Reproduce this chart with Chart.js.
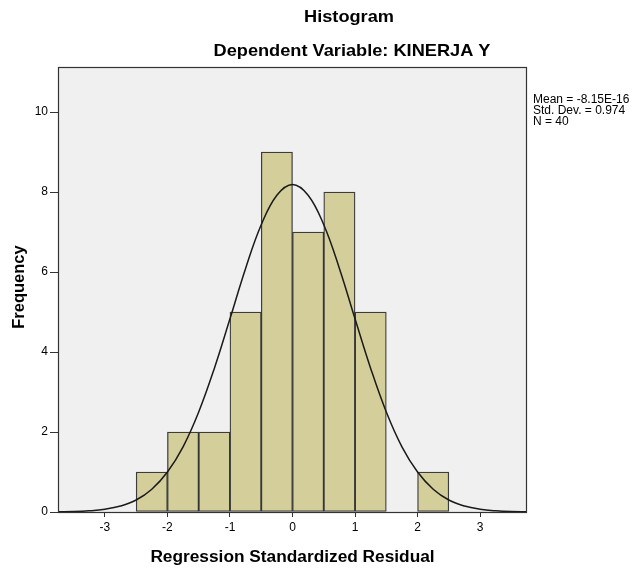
<!DOCTYPE html>
<html>
<head>
<meta charset="utf-8">
<script src="https://cdn.jsdelivr.net/npm/chart.js@4.4.1/dist/chart.umd.min.js"></script>
<style>
  html, body { margin: 0; padding: 0; background: #ffffff; }
  #wrap { width: 634px; height: 571px; position: relative; }
</style>
</head>
<body>
<div id="wrap"><canvas id="histChart"></canvas></div>
<script>
// bin centres (width 0.5) and frequencies
const binCenters = [-2.25, -1.75, -1.25, -0.75, -0.25, 0.25, 0.75, 1.25, 1.75, 2.25];
const frequencies = [1, 2, 2, 5, 9, 7, 8, 5, 0, 1];

// normal curve
const curveX = [-3.75, -3.5, -3.25, -3, -2.75, -2.5, -2.25, -2, -1.75, -1.5, -1.25, -1, -0.75, -0.5, -0.25,
                0, 0.25, 0.5, 0.75, 1, 1.25, 1.5, 1.75, 2, 2.25, 2.5, 2.75, 3, 3.25, 3.5, 3.75];
const curveY = [0.005, 0.01, 0.03, 0.07, 0.15, 0.30, 0.57, 1.00, 1.63, 2.50, 3.59, 4.83, 6.09, 7.18, 7.92,
                8.19, 7.92, 7.18, 6.09, 4.83, 3.59, 2.50, 1.63, 1.00, 0.57, 0.30, 0.15, 0.07, 0.03, 0.01, 0.005];

const xTicks = [-3, -2, -1, 0, 1, 2, 3];
const yTicks = [0, 2, 4, 6, 8, 10];

const statsLines = ["Mean = -8.15E-16", "Std. Dev. = 0.974", "N = 40"];

const FONT = "'Liberation Sans', Arial, sans-serif";

function stretchedText(ctx, text, x, y, sx, align) {
    ctx.save();
    ctx.translate(x, y);
    ctx.scale(sx, 1);
    ctx.textAlign = align;
    ctx.fillText(text, 0, 0);
    ctx.restore();
}

const spssDecor = {
    id: "spssDecor",
    beforeDraw(chart) {
        const { ctx, chartArea: a } = chart;
        ctx.save();
        ctx.fillStyle = "#f0f0f0";
        ctx.fillRect(a.left, a.top, a.right - a.left, a.bottom - a.top);
        ctx.restore();
    },
    afterDraw(chart) {
        const { ctx, chartArea: a } = chart;
        ctx.save();
        ctx.strokeStyle = "#333333";
        ctx.lineWidth = 1.2;
        ctx.strokeRect(a.left + 0.5, a.top + 0.5, a.right - a.left - 1, a.bottom - a.top);

        ctx.fillStyle = "#000000";
        ctx.textBaseline = "alphabetic";
        ctx.font = "bold 17px " + FONT;
        stretchedText(ctx, "Histogram", 349, 22, 1.07, "center");
        stretchedText(ctx, "Dependent Variable: KINERJA Y", 352, 56, 1.07, "center");

        ctx.font = "bold 16px " + FONT;
        stretchedText(ctx, "Regression Standardized Residual", (a.left + a.right) / 2, 562, 1.08, "center");

        ctx.save();
        ctx.translate(24, 287);
        ctx.rotate(-Math.PI / 2);
        ctx.font = "bold 16.5px " + FONT;
        ctx.textAlign = "center";
        ctx.fillText("Frequency", 0, 0);
        ctx.restore();

        ctx.font = "12px " + FONT;
        ctx.textAlign = "left";
        statsLines.forEach(function (line, i) {
            ctx.fillText(line, 533, 103 + i * 11.2);
        });
        ctx.restore();
    }
};

new Chart(document.getElementById("histChart"), {
    type: "bar",
    data: {
        datasets: [
            {
                type: "line",
                data: curveX.map((x, i) => ({ x: x, y: curveY[i] })),
                borderColor: "#1a1a1a",
                borderWidth: 1.5,
                pointRadius: 0,
                tension: 0.4,
                fill: false,
                order: 0
            },
            {
                type: "bar",
                data: binCenters.map((x, i) => ({ x: x, y: frequencies[i] })),
                backgroundColor: "#d3ce9a",
                borderColor: "rgba(40, 40, 40, 0.9)",
                borderWidth: 1.3,
                borderSkipped: false,
                barPercentage: 1,
                categoryPercentage: 1,
                order: 1
            }
        ]
    },
    options: {
        responsive: true,
        maintainAspectRatio: false,
        animation: false,
        layout: { padding: { left: 0, right: 107, top: 67, bottom: 0 } },
        plugins: {
            legend: { display: false },
            tooltip: { enabled: false }
        },
        scales: {
            x: {
                type: "linear",
                min: -3.75,
                max: 3.75,
                offset: false,
                grid: { offset: false, drawOnChartArea: false, drawTicks: true, tickLength: 5, color: "#333333" },
                border: { display: false },
                afterBuildTicks: function (scale) {
                    scale.ticks = xTicks.map(v => ({ value: v }));
                },
                afterFit: function (scale) { scale.height = 59; },
                ticks: {
                    color: "#000000",
                    padding: 3,
                    maxRotation: 0,
                    font: { family: FONT, size: 12 }
                }
            },
            y: {
                min: 0,
                max: 11.125,
                grid: { drawOnChartArea: false, drawTicks: true, tickLength: 8, color: "#333333" },
                border: { display: false },
                afterBuildTicks: function (scale) {
                    scale.ticks = yTicks.map(v => ({ value: v }));
                },
                afterFit: function (scale) { scale.width = 58; },
                ticks: {
                    color: "#000000",
                    padding: 2,
                    font: { family: FONT, size: 12 }
                }
            }
        }
    },
    plugins: [spssDecor]
});
</script>
</body>
</html>
